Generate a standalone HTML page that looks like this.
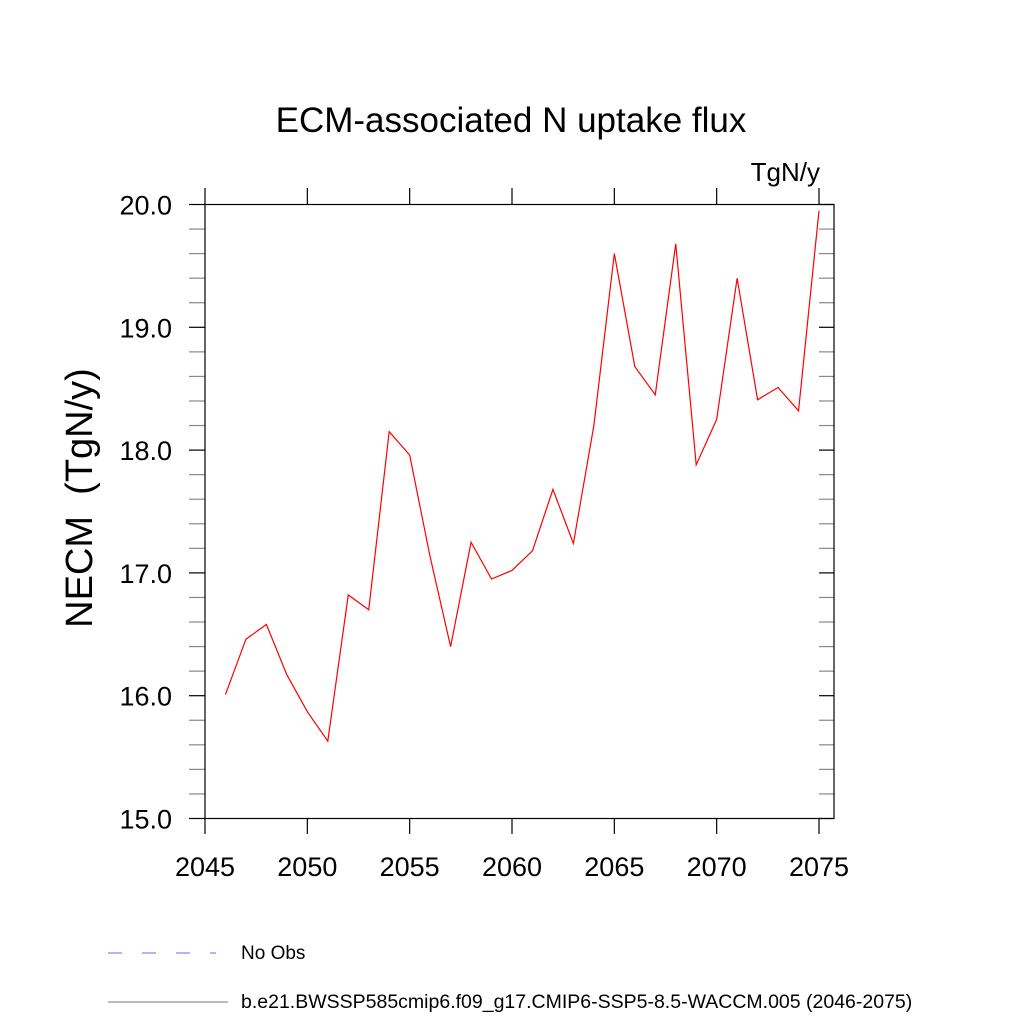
<!DOCTYPE html>
<html><head><meta charset="utf-8"><style>
body{margin:0;background:#fff;}
svg{display:block;font-family:"Liberation Sans",sans-serif;}
</style></head><body>
<svg id="chart" width="1024" height="1024" viewBox="0 0 1024 1024" xmlns="http://www.w3.org/2000/svg">
<rect width="1024" height="1024" fill="#fff"/>
<text x="511" y="132" font-size="35" text-anchor="middle">ECM-associated N uptake flux</text>
<text x="820" y="181" font-size="26" text-anchor="end">TgN/y</text>
<text transform="translate(92,498) rotate(-90)" font-size="38" text-anchor="middle">NECM&#160; (TgN/y)</text>
<g id="axes"></g>
<polyline id="series" fill="none" stroke="#ff0000" stroke-width="1.2"/>
<rect x="205" y="204.5" width="629" height="614" fill="none" stroke="#000" stroke-width="1.2"/>
<g>
<line x1="108" y1="953" x2="216" y2="953" stroke="#6666ff" stroke-width="1" stroke-dasharray="14,20"/>
<text x="241" y="959" font-size="19">No Obs</text>
<line x1="108" y1="1002" x2="228" y2="1002" stroke="#777" stroke-width="1"/>
<text x="241" y="1008" font-size="19.5">b.e21.BWSSP585cmip6.f09_g17.CMIP6-SSP5-8.5-WACCM.005 (2046-2075)</text>
</g>
</svg>
<script>
const years=[2046,2047,2048,2049,2050,2051,2052,2053,2054,2055,2056,2057,2058,2059,2060,2061,2062,2063,2064,2065,2066,2067,2068,2069,2070,2071,2072,2073,2074,2075];
const values=[16.01,16.46,16.58,16.17,15.87,15.63,16.82,16.70,18.15,17.96,17.13,16.40,17.25,16.95,17.02,17.18,17.68,17.24,18.20,19.60,18.68,18.45,19.68,17.88,18.25,19.40,18.41,18.51,18.32,19.95];
const xTicks=[2045,2050,2055,2060,2065,2070,2075];
const yTicks=[15,16,17,18,19,20];
const yTickLabels=["15.0","16.0","17.0","18.0","19.0","20.0"];
const X=v=>205+(v-2045)*(614/30);
const Y=v=>818.5-(v-15)*(614/5);
const NS="http://www.w3.org/2000/svg";
const g=document.getElementById('axes');
function ln(x1,y1,x2,y2,c,name){const l=document.createElementNS(NS,'line');l.setAttribute('x1',x1);l.setAttribute('y1',y1);l.setAttribute('x2',x2);l.setAttribute('y2',y2);l.setAttribute('stroke',c);l.setAttribute('stroke-width',1.2);


g.appendChild(l);}
function tx(x,y,s,anchor,name){const t=document.createElementNS(NS,'text');t.setAttribute('x',x);t.setAttribute('y',y);t.setAttribute('font-size',27);t.setAttribute('text-anchor',anchor);t.textContent=s;


g.appendChild(t);}
xTicks.forEach(v=>{const x=X(v);ln(x,188,x,204,'#000','x-tick-top');ln(x,818,x,834,'#000','x-tick-bottom');tx(x,876,String(v),'middle','x-tick-label');});
for(let v=15;v<=20.001;v+=0.2){const y=Y(v);const major=Math.abs(v-Math.round(v))<0.01;const c=major?'#000':'#888';ln(189,y,205,y,c,'y-tick-left');ln(819,y,834,y,c,'y-tick-right');}
yTicks.forEach((v,i)=>tx(172,Y(v)+10,yTickLabels[i],'end','y-tick-label'));
document.getElementById('series').setAttribute('points',years.map((y,i)=>X(y)+','+Y(values[i])).join(' '));
</script>
</body></html>
